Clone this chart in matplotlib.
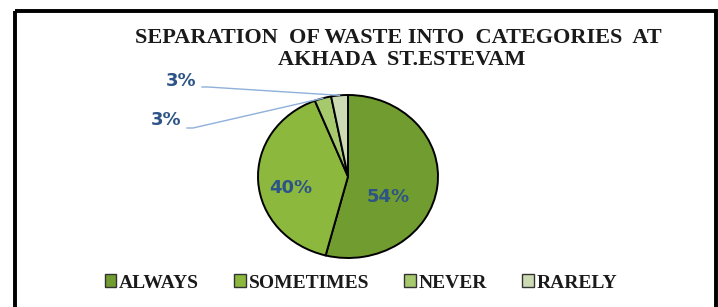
import numpy as np
import matplotlib
matplotlib.use("Agg")
import matplotlib.pyplot as plt
from matplotlib.patches import Rectangle

# data
categories = ['ALWAYS', 'SOMETIMES', 'NEVER', 'RARELY']
shares = [54, 40, 3, 3]
colors = ['#719c2f', '#8cb83e', '#a6c96e', '#cddbb4']

# where the percentage labels sit (pixels from top-left), Excel "best fit" style
label_pos = [(388, 197), (291, 188), (166, 120), (181, 81)]
leader_start = {2: (187, 128), 3: (202, 87)}

W, H = 718, 307
fig = plt.figure(figsize=(W / 100, H / 100), dpi=100)

# pie gets its own axes so it can be a touch wider than tall, like the original
px0, py0, pw, ph = 258, 95, 180, 163
pie_ax = fig.add_axes([px0 / W, 1 - (py0 + ph) / H, pw / W, ph / H])
wedges, _ = pie_ax.pie(shares, colors=colors, startangle=90, counterclock=False,
                       radius=1.0, wedgeprops=dict(edgecolor='black', linewidth=1.4))
pie_ax.set_aspect('auto')
pie_ax.set_xlim(-1, 1)
pie_ax.set_ylim(-1, 1)
pie_ax.axis('off')

# overlay axes in pixel coordinates (y grows downwards), sits above the pie
bg = fig.add_axes([0, 0, 1, 1])
bg.set_xlim(0, W)
bg.set_ylim(H, 0)
bg.axis('off')
bg.set_zorder(3)

# outer frame
bg.add_patch(Rectangle((15, 10.5), 701, 310, fill=False, ec='black', lw=2.8, zorder=5))

# percentage labels
for i, (val, (x, y)) in enumerate(zip(shares, label_pos)):
    bg.text(x, y, f'{val}%', ha='center', va='center', color='#2d5486',
            fontsize=13, fontweight='bold', family='DejaVu Sans', zorder=6)

# leader lines for the thin slices
to_bg = bg.transData.inverted()
for i, (sx, sy) in leader_start.items():
    w = wedges[i]
    mid = np.deg2rad((w.theta1 + w.theta2) / 2)
    ex, ey = to_bg.transform(pie_ax.transData.transform((np.cos(mid), np.sin(mid))))
    bg.plot([sx, sx + 6, ex], [sy, sy, ey], color='#8fb0da', lw=1.0, zorder=4)

# title
bg.text(398, 43, 'SEPARATION  OF WASTE INTO  CATEGORIES  AT', ha='center', va='baseline',
        family='Liberation Serif', fontweight='bold', fontsize=16, color='#1a1a1a')
bg.text(402, 65, 'AKHADA  ST.ESTEVAM', ha='center', va='baseline',
        family='Liberation Serif', fontweight='bold', fontsize=16, color='#1a1a1a')

leg = fig.legend(wedges, categories, ncol=4, loc='center',
                 bbox_to_anchor=(361 / W, 1 - 283 / H), frameon=False,
                 prop=dict(family='Liberation Serif', weight='bold', size=14),
                 handlelength=0.6, handleheight=0.6, handletextpad=0.15,
                 columnspacing=1.8, labelcolor='#1a1a1a')
for h in leg.legend_handles:
    h.set_edgecolor('#333333')
    h.set_linewidth(1.0)

fig.savefig('out.png', dpi=100, facecolor='white')
